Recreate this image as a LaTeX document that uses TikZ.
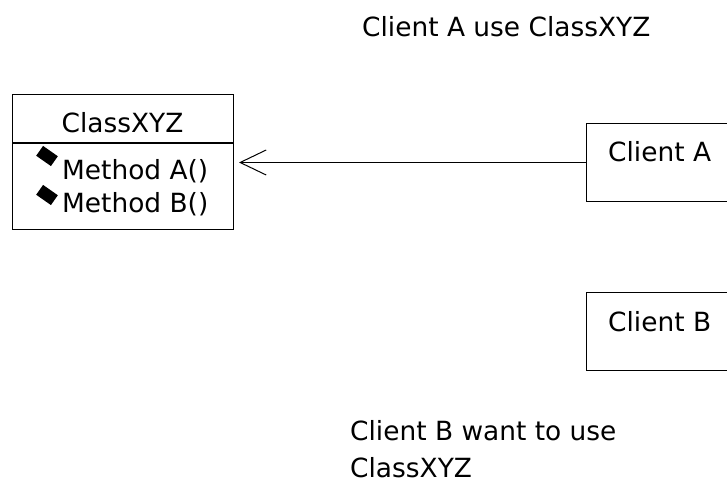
\documentclass[tikz,border=0pt]{standalone}
\usepackage{fontspec}
\setmainfont{DejaVu Sans}
\usetikzlibrary{positioning}
\usetikzlibrary{arrows.meta}
\tikzset{box/.style = {draw, line width=1bp, rectangle, inner sep=0}}
\tikzset{txt/.style = {inner sep=0, font=\fontsize{26.5}{38}\selectfont}}
\tikzset{bullet/.style = {fill, rectangle, rotate=-35, inner sep=0,
                          minimum width=18bp, minimum height=12bp}}
\tikzset{uses/.style = {line width=1bp,
                        -{Straight Barb[length=26bp, width=25bp, line width=1bp]}}}

\begin{document}
\begin{tikzpicture}[x=1bp, y=1bp]
    \useasboundingbox (0, 0) rectangle (727, 483);

    \node [txt, anchor=base west] (title) at (362, 446) {Client A use ClassXYZ};

    % the class
    \node [box, anchor=north west, minimum width=221bp, minimum height=48bp] (clsname) at (12, 389) {};
    \node [box, anchor=north west, minimum width=221bp, minimum height=86bp] (clsbody) at (clsname.south west) {};
    \node [txt, anchor=base] (clstext) at (122.5, 350) {ClassXYZ};
    \node [bullet] (dota) at (47, 327) {};
    \node [txt, anchor=base west] (metha) at (62, 303) {Method A()};
    \node [bullet] (dotb) at (47, 288) {};
    \node [txt, anchor=base west] (methb) at (62, 270) {Method B()};

    % the clients
    \node [box, anchor=north west, minimum width=160bp, minimum height=78bp] (clienta) at (586, 360) {};
    \node [txt, anchor=base west] (clientatext) at (608, 321) {Client A};
    \node [box, anchor=north west, minimum width=160bp, minimum height=78bp] (clientb) at (586, 191) {};
    \node [txt, anchor=base west] (clientbtext) at (608, 151) {Client B};

    \draw [uses, shorten >=5bp] (clienta.west) -- (clienta.west -| clsbody.east);

    \node [txt, anchor=base west, align=left] (note) at (350, 5) {Client B want to use\\ClassXYZ};
  \end{tikzpicture}
\end{document}
